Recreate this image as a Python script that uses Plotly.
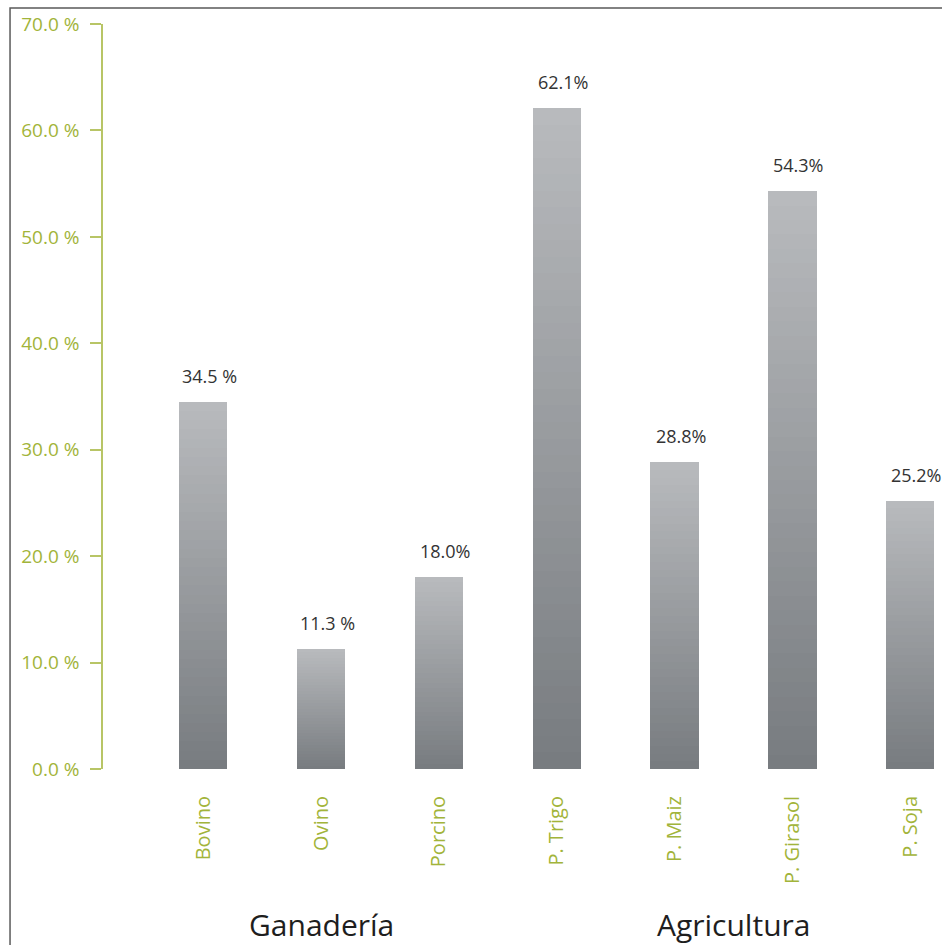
import plotly.graph_objects as go

# Participación por actividad (%)
categories = ["Bovino", "Ovino", "Porcino", "P. Trigo", "P. Maiz", "P. Girasol", "P. Soja"]
values = [34.5, 11.3, 18.0, 62.1, 28.8, 54.3, 25.2]
value_labels = ["34.5 %", "11.3 %", "18.0%", "62.1%", "28.8%", "54.3%", "25.2%"]
y_ticks = [0, 10, 20, 30, 40, 50, 60, 70]
y_tick_labels = ["0.0 %", "10.0 %", "20.0 %", "30.0 %", "40.0 %", "50.0 %", "60.0 %", "70.0 %"]
groups = ["Ganadería", "Agricultura"]
group_centers = [1.0, 4.5]

GREEN = "#a2b43a"
AXIS_GREEN = "#b8c566"
TEXT = "#333333"
FONT = "Open Sans"

x_pos = list(range(len(categories)))

# Vertical gradient: each bar is split into equal stacked slices,
# shaded from dark at the base to light at the top.
N_SLICES = 40
dark = (0x78, 0x7c, 0x80)
light = (0xb8, 0xba, 0xbd)

fig = go.Figure()
for k in range(N_SLICES):
    t = k / (N_SLICES - 1)
    rgb = tuple(round(d + (l - d) * t) for d, l in zip(dark, light))
    fig.add_trace(go.Bar(
        x=x_pos,
        y=[v / N_SLICES for v in values],
        width=0.41,
        marker=dict(color="rgb(%d,%d,%d)" % rgb, line=dict(width=0)),
        hoverinfo="skip",
        showlegend=False,
    ))

# Value labels above each bar
for x, v, lab in zip(x_pos, values, value_labels):
    fig.add_annotation(
        x=x, y=v, xref="x", yref="y", text=lab, showarrow=False,
        yanchor="bottom", yshift=12, xshift=6,
        font=dict(family=FONT, size=18, color=TEXT),
    )

# Group labels under the category names
for g, cx in zip(groups, group_centers):
    fig.add_annotation(
        x=cx, y=-0.209, xref="x", yref="paper", text=g, showarrow=False,
        yanchor="middle", xanchor="center",
        font=dict(family=FONT, size=30, color="#1e1e1e"),
    )

# Frame around the chart
fig.add_shape(
    type="rect", xref="paper", yref="paper",
    x0=-0.1108, x1=1.3, y0=-0.6, y1=1.0215,
    line=dict(color="#5a5a5a", width=1.5), fillcolor="rgba(0,0,0,0)", layer="below",
)

fig.update_layout(
    width=942, height=945,
    margin=dict(l=103, r=0, t=24, b=176),
    paper_bgcolor="white", plot_bgcolor="white",
    barmode="stack", bargap=0,
    showlegend=False,
    font=dict(family=FONT),
)
fig.update_xaxes(
    range=[-0.85, 6.27],
    tickmode="array", tickvals=x_pos, ticktext=categories,
    tickangle=-90, ticks="", showline=False, showgrid=False, zeroline=False,
    tickfont=dict(family=FONT, size=20, color=GREEN),
    ticklabelstandoff=22,
)
fig.update_yaxes(
    range=[0, 70],
    tickmode="array", tickvals=y_ticks, ticktext=y_tick_labels,
    ticks="outside", ticklen=11, tickcolor=AXIS_GREEN, tickwidth=1.5,
    showline=True, linecolor=AXIS_GREEN, linewidth=1.5,
    showgrid=False, zeroline=False,
    tickfont=dict(family=FONT, size=19, color=GREEN),
    ticklabelstandoff=7,
)

fig.write_html("out.html")
